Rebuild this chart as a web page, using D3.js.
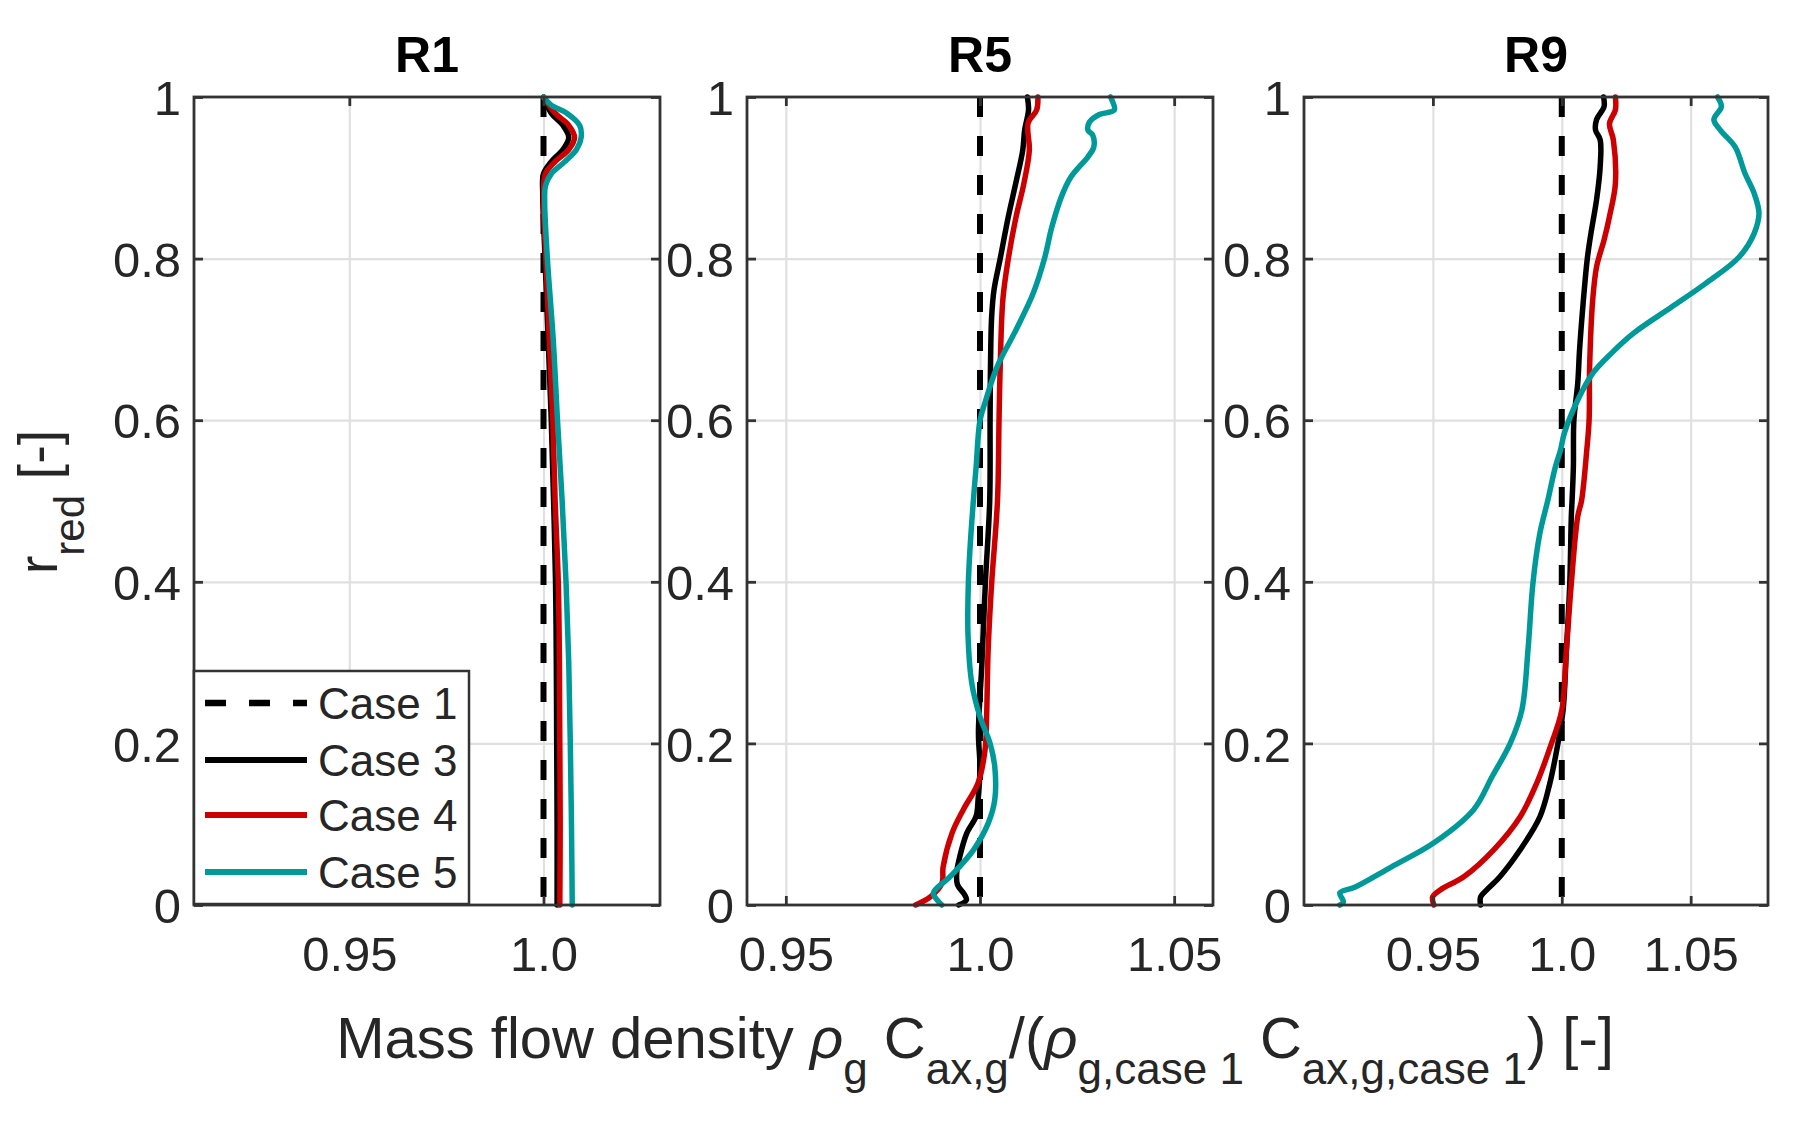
<!DOCTYPE html>
<html>
<head>
<meta charset="utf-8">
<script src="https://cdn.jsdelivr.net/npm/d3@7"></script>
<style>
  body { margin: 0; background: #fff; }
  text { font-family: "Liberation Sans", Arial, sans-serif; fill: #262626; }
</style>
</head>
<body>
<div id="chart"></div>
<script>
// ---- data: [r_red, mass flow density ratio] ----
var panelNames = ["R1", "R5", "R9"];
var caseNames = ["Case 1", "Case 3", "Case 4", "Case 5"];

var yTicks = [0, 0.2, 0.4, 0.6, 0.8, 1];
var yTickLabels = ["0", "0.2", "0.4", "0.6", "0.8", "1"];

var xDomains = [[0.91, 1.03], [0.94, 1.06], [0.90, 1.08]];
var xTicks = [[0.95, 1.0], [0.95, 1.0, 1.05], [0.95, 1.0, 1.05]];
var xTickLabels = [["0.95", "1.0"], ["0.95", "1.0", "1.05"], ["0.95", "1.0", "1.05"]];

// case 1 is the reference, always 1
var case1 = [[1.0, 1.0], [0.0, 1.0]];

var r1Case3 = [[1.000, 1.0000], [0.980, 1.0020], [0.965, 1.0050], [0.950, 1.0065], [0.935, 1.0050],
  [0.920, 1.0020], [0.905, 1.0000], [0.880, 0.9998], [0.800, 1.0004], [0.700, 1.0012], [0.600, 1.0020],
  [0.500, 1.0026], [0.400, 1.0031], [0.300, 1.0033], [0.200, 1.0034], [0.100, 1.0035], [0.000, 1.0035]];
var r1Case4 = [[1.000, 1.0000], [0.980, 1.0030], [0.965, 1.0065], [0.950, 1.0080], [0.935, 1.0065],
  [0.920, 1.0030], [0.905, 1.0005], [0.880, 1.0000], [0.800, 1.0006], [0.700, 1.0015], [0.600, 1.0024],
  [0.500, 1.0030], [0.400, 1.0038], [0.300, 1.0041], [0.200, 1.0042], [0.100, 1.0043], [0.000, 1.0042]];
var r1Case5 = [[1.000, 1.0000], [0.990, 1.0020], [0.980, 1.0060], [0.965, 1.0093], [0.950, 1.0097],
  [0.935, 1.0085], [0.920, 1.0055], [0.905, 1.0020], [0.890, 1.0005], [0.870, 1.0003], [0.800, 1.0010],
  [0.700, 1.0025], [0.600, 1.0036], [0.500, 1.0048], [0.400, 1.0058], [0.300, 1.0065], [0.200, 1.0069],
  [0.100, 1.0072], [0.000, 1.0074]];

var r5Case3 = [[1.000, 1.0122], [0.984, 1.0125], [0.959, 1.0115], [0.934, 1.0110], [0.893, 1.0092],
  [0.852, 1.0073], [0.800, 1.0052], [0.761, 1.0036], [0.728, 1.0030], [0.666, 1.0027], [0.600, 1.0026],
  [0.500, 1.0025], [0.400, 1.0014], [0.300, 1.0005], [0.213, 0.9996], [0.170, 1.0000], [0.130, 0.9995],
  [0.110, 0.9990], [0.089, 0.9966], [0.060, 0.9948], [0.040, 0.9940], [0.025, 0.9942], [0.013, 0.9960],
  [0.006, 0.9965], [0.000, 0.9945]];
var r5Case4 = [[1.000, 1.0149], [0.984, 1.0146], [0.968, 1.0124], [0.934, 1.0127], [0.893, 1.0113],
  [0.852, 1.0093], [0.800, 1.0073], [0.750, 1.0059], [0.666, 1.0052], [0.600, 1.0049], [0.500, 1.0045],
  [0.398, 1.0030], [0.316, 1.0021], [0.233, 1.0017], [0.192, 1.0013], [0.151, 0.9995], [0.118, 0.9957],
  [0.089, 0.9928], [0.047, 0.9905], [0.027, 0.9902], [0.010, 0.9872], [0.000, 0.9834]];
var r5Case5 = [[1.000, 1.0336], [0.996, 1.0340], [0.984, 1.0346], [0.978, 1.0306], [0.969, 1.0282],
  [0.959, 1.0278], [0.953, 1.0290], [0.938, 1.0293], [0.926, 1.0278], [0.901, 1.0234], [0.877, 1.0210],
  [0.839, 1.0185], [0.800, 1.0166], [0.757, 1.0137], [0.712, 1.0093], [0.666, 1.0044], [0.625, 1.0015],
  [0.600, 1.0000], [0.542, 0.9990], [0.501, 0.9983], [0.439, 0.9974], [0.398, 0.9970], [0.336, 0.9969],
  [0.274, 0.9979], [0.233, 1.0000], [0.200, 1.0026], [0.171, 1.0038], [0.130, 1.0038], [0.101, 1.0021],
  [0.068, 0.9983], [0.035, 0.9923], [0.015, 0.9880], [0.006, 0.9890], [0.000, 0.9902]];

var r9Case3 = [[1.000, 1.0162], [0.988, 1.0164], [0.972, 1.0135], [0.959, 1.0131], [0.947, 1.0149],
  [0.914, 1.0149], [0.873, 1.0135], [0.831, 1.0113], [0.800, 1.0099], [0.749, 1.0084], [0.687, 1.0069],
  [0.646, 1.0062], [0.600, 1.0047], [0.542, 1.0045], [0.501, 1.0040], [0.481, 1.0037], [0.398, 1.0031],
  [0.316, 1.0018], [0.241, 1.0005], [0.200, 0.9985], [0.151, 0.9954], [0.109, 0.9915], [0.068, 0.9838],
  [0.035, 0.9760], [0.019, 0.9710], [0.010, 0.9685], [0.000, 0.9685]];
var r9Case4 = [[1.000, 1.0208], [0.984, 1.0208], [0.967, 1.0185], [0.947, 1.0200], [0.893, 1.0208],
  [0.852, 1.0185], [0.823, 1.0164], [0.790, 1.0135], [0.749, 1.0120], [0.666, 1.0108], [0.600, 1.0106],
  [0.563, 1.0097], [0.501, 1.0077], [0.481, 1.0062], [0.398, 1.0037], [0.316, 1.0018], [0.241, 1.0000],
  [0.200, 0.9960], [0.151, 0.9903], [0.109, 0.9838], [0.068, 0.9735], [0.035, 0.9620], [0.019, 0.9530],
  [0.010, 0.9499], [0.000, 0.9504]];
var r9Case5 = [[1.000, 1.0604], [0.988, 1.0619], [0.972, 1.0590], [0.959, 1.0615], [0.938, 1.0673],
  [0.906, 1.0710], [0.881, 1.0746], [0.856, 1.0765], [0.831, 1.0746], [0.802, 1.0688], [0.769, 1.0557],
  [0.740, 1.0426], [0.708, 1.0280], [0.683, 1.0193], [0.658, 1.0120], [0.625, 1.0062], [0.584, 1.0010],
  [0.563, 0.9995], [0.542, 0.9975], [0.501, 0.9946], [0.460, 0.9915], [0.398, 0.9888], [0.316, 0.9869],
  [0.241, 0.9845], [0.200, 0.9800], [0.159, 0.9730], [0.118, 0.9658], [0.077, 0.9504], [0.047, 0.9338],
  [0.022, 0.9197], [0.015, 0.9139], [0.004, 0.9153], [0.000, 0.9139]];

var panelSeries = [
  [case1, r1Case3, r1Case4, r1Case5],
  [case1, r5Case3, r5Case4, r5Case5],
  [case1, r9Case3, r9Case4, r9Case5]
];

// ---- styles ----
var caseColors = ["#000000", "#000000", "#cc0000", "#009999"];
var caseDash = ["20,19", null, null, null];
var caseWidth = [6, 5.5, 5.5, 5.5];

var svgWidth = 1793, svgHeight = 1128;
// note: "top" is taken by window.top, so use plotTop
var plotTop = 97, plotBottom = 905;
var panelLeft = [194, 747, 1304];
var panelRight = [660, 1213, 1768];
var tickLen = 9;
var axisColor = "#333333";

var svg = d3.select("#chart").append("svg")
  .attr("width", svgWidth)
  .attr("height", svgHeight);

var plotH = plotBottom - plotTop;
var yScale = d3.scaleLinear().domain([0, 1]).range([plotH, 0]);

panelNames.forEach(function(name, p) {
  var w = panelRight[p] - panelLeft[p];
  var h = plotH;
  var xScale = d3.scaleLinear().domain(xDomains[p]).range([0, w]);

  var g = svg.append("g").attr("transform", `translate(${panelLeft[p]}, ${plotTop})`);

  // grid
  var gridX = g.append("g")
    .attr("transform", `translate(0, ${h})`)
    .call(d3.axisBottom(xScale).tickValues(xTicks[p]).tickSize(-h).tickFormat(""));
  var gridY = g.append("g")
    .call(d3.axisLeft(yScale).tickValues([0.2, 0.4, 0.6, 0.8]).tickSize(-w).tickFormat(""));
  [gridX, gridY].forEach(function(gr) {
    gr.select(".domain").remove();
    gr.selectAll("line").attr("stroke", "#e0e0e0").attr("stroke-width", 2.2);
  });

  // data lines
  var line = d3.line()
    .x(d => xScale(d[1]))
    .y(d => yScale(d[0]))
    .curve(d3.curveCatmullRom.alpha(0.5));

  panelSeries[p].forEach(function(series, c) {
    g.append("path")
      .datum(series)
      .attr("d", line)
      .attr("fill", "none")
      .attr("stroke", caseColors[c])
      .attr("stroke-width", caseWidth[c])
      .attr("stroke-linejoin", "round")
      .attr("stroke-linecap", caseDash[c] ? "butt" : "round")
      .attr("stroke-dasharray", caseDash[c]);
  });

  // box
  g.append("rect")
    .attr("width", w).attr("height", h)
    .attr("fill", "none")
    .attr("stroke", axisColor)
    .attr("stroke-width", 2.8);

  // axes with inward ticks on all four sides
  var axes = [];
  var xAxis = g.append("g")
    .attr("transform", `translate(0, ${h})`)
    .call(d3.axisBottom(xScale).tickValues(xTicks[p]).tickSize(-tickLen)
      .tickFormat((d, i) => xTickLabels[p][i]));
  xAxis.selectAll("text").attr("y", 66).attr("dy", 0);
  axes.push(xAxis);

  var yAxis = g.append("g")
    .call(d3.axisLeft(yScale).tickValues(yTicks).tickSize(-tickLen)
      .tickFormat((d, i) => yTickLabels[i]));
  yAxis.selectAll("text").attr("x", -13).attr("dy", "0.36em");
  axes.push(yAxis);

  axes.push(g.append("g")
    .call(d3.axisTop(xScale).tickValues(xTicks[p]).tickSize(-tickLen).tickFormat("")));
  axes.push(g.append("g").attr("transform", `translate(${w}, 0)`)
    .call(d3.axisRight(yScale).tickValues(yTicks).tickSize(-tickLen).tickFormat("")));

  axes.forEach(function(a) {
    a.select(".domain").remove();
    a.attr("font-family", null).attr("font-size", null);
    a.selectAll(".tick line").attr("stroke", axisColor).attr("stroke-width", 2.8);
    a.selectAll(".tick text").attr("fill", "#262626").style("font-size", "49px");
  });

  // title
  svg.append("text")
    .attr("x", panelLeft[p] + w / 2)
    .attr("y", 72)
    .attr("text-anchor", "middle")
    .style("font-size", "50px")
    .style("font-weight", "bold")
    .style("fill", "#000")
    .text(name);
});

// legend inside R1
var legend = svg.append("g").attr("transform", "translate(194, 671)");
legend.append("rect")
  .attr("width", 275).attr("height", 233)
  .attr("fill", "#fff")
  .attr("stroke", axisColor)
  .attr("stroke-width", 2.5);
var legendY = [32, 89, 144, 201];
caseNames.forEach(function(name, c) {
  legend.append("line")
    .attr("x1", 11).attr("x2", 113)
    .attr("y1", legendY[c]).attr("y2", legendY[c])
    .attr("stroke", caseColors[c])
    .attr("stroke-width", caseWidth[c] + 0.5)
    .attr("stroke-dasharray", caseDash[c] ? "21,23" : null);
  legend.append("text")
    .attr("x", 124).attr("y", legendY[c])
    .attr("dy", "0.36em")
    .style("font-size", "44px")
    .text(name);
});

// labels with subscripts
function richText(sel, parts, size, subSize, shift) {
  var level = 0;
  parts.forEach(function(part) {
    var s = part.sub ? 1 : 0;
    var t = sel.append("tspan")
      .attr("dy", (s - level) * shift)
      .style("font-size", (s ? subSize : size) + "px")
      .text(part.t);
    if (part.it) t.style("font-style", "italic");
    level = s;
  });
}

var xLabel = svg.append("text")
  .attr("x", 975).attr("y", 1058)
  .attr("text-anchor", "middle")
  .attr("xml:space", "preserve");
richText(xLabel, [
  { t: "Mass flow density " }, { t: "\u03c1", it: true }, { t: "g", sub: true },
  { t: " C" }, { t: "ax,g", sub: true }, { t: "/(" }, { t: "\u03c1", it: true },
  { t: "g,case 1", sub: true }, { t: " C" }, { t: "ax,g,case 1", sub: true }, { t: ") [-]" }
], 58, 44, 26);

var yLabel = svg.append("text")
  .attr("transform", "translate(57, 502) rotate(-90)")
  .attr("text-anchor", "middle")
  .attr("xml:space", "preserve");
richText(yLabel, [{ t: "r" }, { t: "red", sub: true }, { t: " [-]" }], 56, 42, 27);
</script>
</body>
</html>
